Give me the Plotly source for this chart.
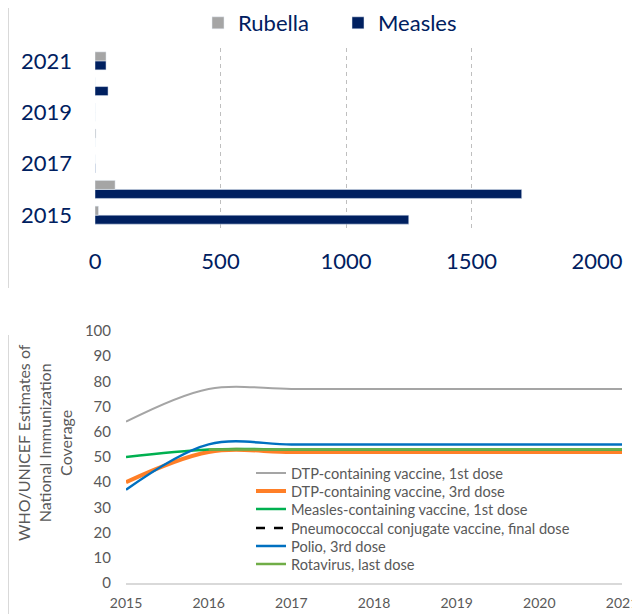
import plotly.graph_objects as go

# ---- top chart data (reported cases) ----
years = [2015, 2016, 2017, 2018, 2019, 2020, 2021]
rubella_cases = [14, 80, 0, 3, 0, 0, 44]
measles_cases = [1250, 1700, 1, 0, 0, 52, 44]
case_ticks = [0, 500, 1000, 1500, 2000]
year_ticks_top = [2015, 2017, 2019, 2021]

# ---- bottom chart data (coverage %) ----
cov_years = [2015, 2016, 2017, 2018, 2019, 2020, 2021]
dtp1 = [64, 77, 77, 77, 77, 77, 77]
dtp3 = [40, 52, 52, 52, 52, 52, 52]
mcv1 = [50, 53, 53, 53, 53, 53, 53]
pcv3 = [None, None, None, None, None, None, None]
pol3 = [37, 55, 55, 55, 55, 55, 55]
rotac = [None, 53, 53, 53, 53, 53, 53]
cov_ticks = [0, 10, 20, 30, 40, 50, 60, 70, 80, 90, 100]
y_title = "WHO/UNICEF Estimates of<br>National Immunization<br>Coverage"

# The page body has an 8px margin, so the figure covers the visible area
# from (8, 8) to (640, 614).
OFF = 8
W, H = 640 - OFF, 614 - OFF
NAVY = "#002060"
GREY_TXT = "#595959"
FONT = "Lato"


def px_x(p):
    return (p - OFF) / W


def px_y(p):
    return 1 - (p - OFF) / H


fig = go.Figure()

# Bars (Measles first so it sits below Rubella in each group)
fig.add_trace(go.Bar(y=years, x=measles_cases, name="Measles", orientation="h",
                     marker_color=NAVY, xaxis="x", yaxis="y", legend="legend2"))
fig.add_trace(go.Bar(y=years, x=rubella_cases, name="Rubella", orientation="h",
                     marker_color="#a5a5a5", xaxis="x", yaxis="y", legend="legend"))

line_specs = [
    ("DTP-containing vaccine, 1st dose", dtp1, "#a5a5a5", 2, "solid"),
    ("DTP-containing vaccine, 3rd dose", dtp3, "#ff7f27", 4, "solid"),
    ("Measles-containing vaccine, 1st dose", mcv1, "#00b050", 2.5, "solid"),
    ("Pneumococcal conjugate vaccine, final dose", pcv3, "#000000", 2.5, "dash"),
    ("Polio, 3rd dose", pol3, "#0070c0", 2.5, "solid"),
    ("Rotavirus, last dose", rotac, "#70ad47", 2.5, "solid"),
]
row_centers = [473, 491, 509, 528, 546, 564]
legends = {}
for i, ((name, vals, col, w, dash), yc) in enumerate(zip(line_specs, row_centers)):
    lg = "legend%d" % (i + 3)
    fig.add_trace(go.Scatter(x=cov_years, y=vals, name=name, mode="lines",
                             line=dict(color=col, width=w, dash=dash, shape="spline"),
                             xaxis="x2", yaxis="y2", legend=lg))
    legends[lg] = dict(orientation="v", x=px_x(251), xanchor="left",
                       y=px_y(yc), yanchor="middle",
                       font=dict(size=14.6, color=GREY_TXT, family=FONT),
                       itemwidth=30, bgcolor="rgba(0,0,0,0)")

fig.update_layout(
    width=W, height=H,
    margin=dict(l=0, r=0, t=0, b=0, autoexpand=False),
    paper_bgcolor="white", plot_bgcolor="white",
    font=dict(family=FONT),
    barmode="group", bargap=0.3, bargroupgap=0,
    xaxis=dict(domain=[px_x(95), px_x(597)], anchor="y", range=[0, 2000],
               tickvals=case_ticks, showgrid=True, gridcolor="#bfbfbf",
               griddash="4px,4px", gridwidth=1, zeroline=False, showline=False,
               ticks="", tickfont=dict(size=22, color=NAVY, family=FONT),
               ticklabelstandoff=18, automargin=False),
    yaxis=dict(domain=[px_y(228), px_y(48)], anchor="x", range=[2014.5, 2021.5],
               tickvals=year_ticks_top, showgrid=False, zeroline=False,
               showline=False, ticks="",
               tickfont=dict(size=22, color=NAVY, family=FONT),
               ticklabelstandoff=22, automargin=False),
    xaxis2=dict(domain=[px_x(126), px_x(622)], anchor="y2", range=[2015, 2021],
                tickvals=cov_years, showgrid=False, zeroline=False,
                showline=True, linecolor="#d9d9d9", linewidth=2, ticks="",
                tickfont=dict(size=14, color=GREY_TXT, family=FONT),
                ticklabelstandoff=6, automargin=False),
    yaxis2=dict(domain=[px_y(583), px_y(331)], anchor="x2", range=[0, 100],
                tickvals=cov_ticks, showgrid=False, zeroline=False,
                showline=False, ticks="",
                tickfont=dict(size=15, color=GREY_TXT, family=FONT),
                ticklabelstandoff=14, automargin=False),
    annotations=[
        dict(text=y_title, xref="paper", yref="paper", x=px_x(44), y=px_y(443),
             xanchor="center", yanchor="middle", textangle=-90, showarrow=False,
             font=dict(size=16, color=GREY_TXT, family=FONT)),
    ],
    legend=dict(orientation="h", x=px_x(198), xanchor="left", y=px_y(23),
                yanchor="middle", font=dict(size=22, color=NAVY, family=FONT),
                bgcolor="rgba(0,0,0,0)"),
    legend2=dict(orientation="h", x=px_x(338), xanchor="left", y=px_y(23),
                 yanchor="middle", font=dict(size=22, color=NAVY, family=FONT),
                 bgcolor="rgba(0,0,0,0)"),
    showlegend=True,
    shapes=[
        dict(type="line", xref="paper", yref="paper", x0=px_x(8.5), x1=px_x(8.5),
             y0=px_y(8), y1=px_y(288), line=dict(color="#d9d9d9", width=1)),
        dict(type="line", xref="paper", yref="paper", x0=px_x(8.5), x1=px_x(8.5),
             y0=px_y(335), y1=px_y(614), line=dict(color="#d9d9d9", width=1)),
    ],
)
fig.update_layout(**legends)

fig.write_html("out.html")
